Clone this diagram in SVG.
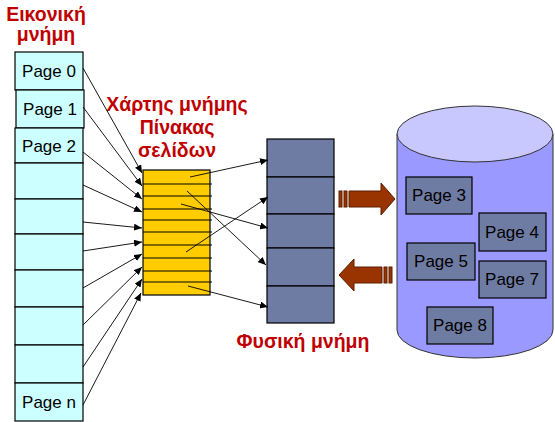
<svg xmlns="http://www.w3.org/2000/svg" width="555" height="422" viewBox="0 0 555 422">
<defs>
<style>
.title{font-family:"Liberation Sans",Arial,sans-serif;font-weight:bold;font-size:19.5px;fill:#c00000;text-anchor:middle}
.pg{font-family:"Liberation Sans",Arial,sans-serif;font-size:17px;fill:#000;text-anchor:middle}
.vm{fill:#ccffff;stroke:#000;stroke-width:1.2}
.pm{fill:#6e7ba3;stroke:#000;stroke-width:1.2}
.pt{fill:#ffcc00;stroke:#000;stroke-width:1.2}
.ptl{stroke:#000;stroke-width:1.2}
.conn line{stroke:#000;stroke-width:0.9;marker-end:url(#ah)}
.big{fill:#993300;stroke:#5c1f00;stroke-width:1}
</style>
<marker id="ah" markerUnits="userSpaceOnUse" markerWidth="9" markerHeight="7" refX="8" refY="3.5" orient="auto">
<path d="M0,0 L8,3.5 L0,7 z" fill="#000"/>
</marker>
</defs>
<rect width="555" height="422" fill="#fff"/>

<g id="title-virtual">
<text class="title" x="46" y="21">Εικονική</text>
<text class="title" x="46" y="41">μνήμη</text>
</g>
<g id="title-map">
<text class="title" x="177" y="111">Χάρτης μνήμης</text>
<text class="title" x="177" y="134">Πίνακας</text>
<text class="title" x="177" y="157">σελίδων</text>
</g>
<g id="title-physical">
<text class="title" x="303" y="348">Φυσική μνήμη</text>
</g>

<g id="virtual-memory">
<rect class="vm" x="15" y="52" width="68" height="38"/>
<rect class="vm" x="16" y="90" width="68" height="38"/>
<rect class="vm" x="15" y="128" width="68" height="35"/>
<rect class="vm" x="15" y="163" width="68" height="36"/>
<rect class="vm" x="15" y="199" width="68" height="35"/>
<rect class="vm" x="15" y="234" width="68" height="36"/>
<rect class="vm" x="15" y="270" width="68" height="37"/>
<rect class="vm" x="15" y="307" width="68" height="38"/>
<rect class="vm" x="15" y="345" width="68" height="38"/>
<rect class="vm" x="15" y="383" width="68" height="38"/>
<text class="pg" x="49" y="77">Page 0</text>
<text class="pg" x="50" y="115">Page 1</text>
<text class="pg" x="49" y="152">Page 2</text>
<text class="pg" x="49" y="408">Page n</text>
</g>

<g id="page-table">
<rect class="pt" x="143" y="170" width="67" height="125"/>
<line class="ptl" x1="143" y1="184" x2="212" y2="184"/>
<line class="ptl" x1="143" y1="196" x2="212" y2="196"/>
<line class="ptl" x1="143" y1="209" x2="212" y2="209"/>
<line class="ptl" x1="143" y1="220" x2="212" y2="220"/>
<line class="ptl" x1="143" y1="232" x2="212" y2="232"/>
<line class="ptl" x1="143" y1="245" x2="212" y2="245"/>
<line class="ptl" x1="143" y1="258" x2="212" y2="258"/>
<line class="ptl" x1="143" y1="271" x2="212" y2="271"/>
<line class="ptl" x1="143" y1="282" x2="212" y2="282"/>
</g>

<g id="physical-memory">
<rect class="pm" x="267" y="139" width="67" height="38"/>
<rect class="pm" x="267" y="177" width="67" height="37"/>
<rect class="pm" x="267" y="214" width="67" height="34"/>
<rect class="pm" x="267" y="248" width="67" height="38"/>
<rect class="pm" x="267" y="286" width="67" height="37"/>
</g>

<g id="disk">
<path d="M397,134 L397,330 A78,28 0 0 0 553,330 L553,134 Z" fill="#9999ff" stroke="#333" stroke-width="1"/>
<ellipse cx="475" cy="134" rx="78" ry="28" fill="#c8c8ff" stroke="#333" stroke-width="1"/>
</g>
<g id="page3"><rect class="pm" x="406" y="177" width="66" height="37"/><text class="pg" x="439" y="201">Page 3</text></g>
<g id="page4"><rect class="pm" x="479" y="213" width="67" height="38"/><text class="pg" x="512" y="238">Page 4</text></g>
<g id="page5"><rect class="pm" x="407" y="243" width="68" height="37"/><text class="pg" x="441" y="267">Page 5</text></g>
<g id="page7"><rect class="pm" x="479" y="261" width="67" height="37"/><text class="pg" x="512" y="285">Page 7</text></g>
<g id="page8"><rect class="pm" x="427" y="307" width="66" height="37"/><text class="pg" x="460" y="331">Page 8</text></g>

<g id="swap-out">
<rect class="big" x="339" y="191" width="3" height="16"/>
<rect class="big" x="344" y="191" width="3" height="16"/>
<path class="big" d="M349,191 L381,191 L381,183 L395,199 L381,215 L381,207 L349,207 Z"/>
</g>
<g id="swap-in">
<rect class="big" x="389" y="267" width="3" height="16"/>
<rect class="big" x="384" y="267" width="3" height="16"/>
<path class="big" d="M382,267 L354,267 L354,259 L339,275 L354,291 L354,283 L382,283 Z"/>
</g>

<g id="connectors" class="conn">
<line x1="83" y1="68" x2="142" y2="173"/>
<line x1="83" y1="107" x2="142" y2="186"/>
<line x1="83" y1="152" x2="142" y2="199"/>
<line x1="83" y1="185" x2="142" y2="212"/>
<line x1="83" y1="222" x2="142" y2="228"/>
<line x1="83" y1="251" x2="142" y2="242"/>
<line x1="83" y1="288" x2="142" y2="254"/>
<line x1="83" y1="325" x2="142" y2="267"/>
<line x1="83" y1="367" x2="142" y2="279"/>
<line x1="83" y1="405" x2="141" y2="293"/>
<line x1="190" y1="177" x2="268" y2="160"/>
<line x1="187" y1="191" x2="266" y2="265"/>
<line x1="181" y1="204" x2="268" y2="228"/>
<line x1="186" y1="252" x2="268" y2="197"/>
<line x1="188" y1="286" x2="268" y2="307"/>
</g>
</svg>
